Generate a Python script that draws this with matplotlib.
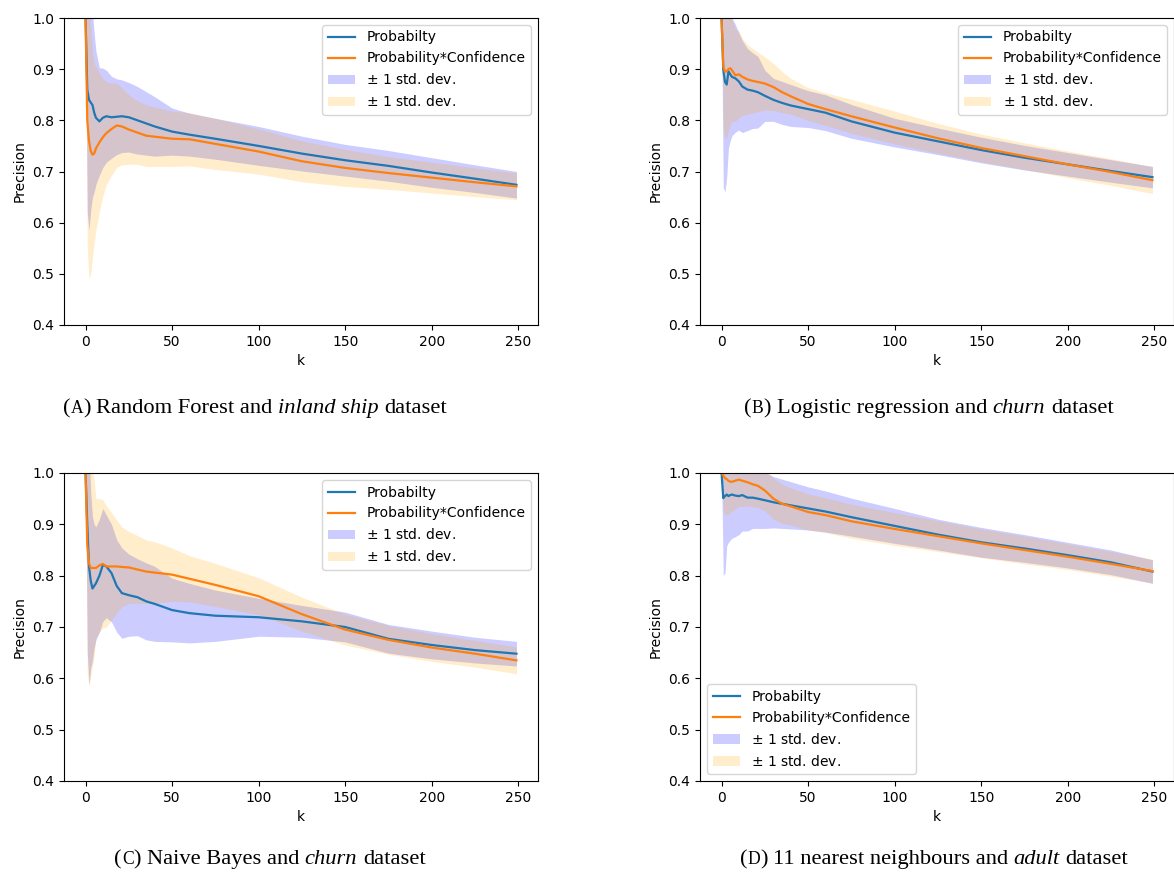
import matplotlib
matplotlib.use('Agg')
import matplotlib.pyplot as plt
import numpy as np

K = [0, 1, 2, 3, 4, 5, 6, 8, 10, 12, 15, 18, 21, 25, 30, 35, 40, 50, 60, 75,
     100, 125, 150, 175, 200, 225, 249]

# (A) Random Forest / inland ship
a_prob = [1.0, 0.86, 0.84, 0.835, 0.83, 0.815, 0.805, 0.798, 0.805, 0.808, 0.806, 0.807, 0.808,
          0.806, 0.80, 0.794, 0.788, 0.778, 0.772, 0.764, 0.750, 0.735, 0.722, 0.711, 0.698,
          0.686, 0.674]
a_prob_std = [0.0, 0.24, 0.255, 0.21, 0.18, 0.155, 0.13, 0.105, 0.097, 0.09, 0.08, 0.074, 0.071,
              0.068, 0.066, 0.062, 0.058, 0.046, 0.042, 0.040, 0.038, 0.034, 0.031, 0.030, 0.029,
              0.027, 0.026]
a_conf = [1.0, 0.80, 0.76, 0.74, 0.733, 0.735, 0.745, 0.757, 0.767, 0.775, 0.783, 0.79, 0.788,
          0.782, 0.776, 0.770, 0.768, 0.764, 0.763, 0.754, 0.739, 0.720, 0.707, 0.697, 0.688,
          0.679, 0.671]
a_conf_std = [0.0, 0.25, 0.27, 0.24, 0.2, 0.175, 0.16, 0.135, 0.115, 0.10, 0.09, 0.082, 0.075,
              0.068, 0.062, 0.06, 0.058, 0.054, 0.052, 0.05, 0.044, 0.04, 0.036, 0.032, 0.03,
              0.028, 0.026]

# (B) Logistic regression / churn
b_prob = [1.0, 0.899, 0.875, 0.87, 0.896, 0.89, 0.885, 0.882, 0.876, 0.866, 0.86, 0.858, 0.855,
          0.848, 0.84, 0.834, 0.829, 0.822, 0.815, 0.798, 0.776, 0.759, 0.742, 0.727, 0.714,
          0.701, 0.689]
b_prob_std = [0.0, 0.23, 0.215, 0.18, 0.15, 0.13, 0.115, 0.105, 0.095, 0.09, 0.08, 0.074, 0.07,
              0.05, 0.042, 0.042, 0.041, 0.036, 0.035, 0.033, 0.028, 0.026, 0.025, 0.024, 0.023,
              0.022, 0.021]
b_conf = [1.0, 0.905, 0.895, 0.896, 0.90, 0.902, 0.898, 0.888, 0.89, 0.885, 0.88, 0.877, 0.875,
          0.872, 0.865, 0.855, 0.847, 0.832, 0.822, 0.808, 0.786, 0.765, 0.746, 0.730, 0.714,
          0.699, 0.683]
b_conf_std = [0.0, 0.12, 0.13, 0.13, 0.12, 0.11, 0.10, 0.09, 0.085, 0.075, 0.068, 0.063, 0.058,
              0.052, 0.046, 0.04, 0.035, 0.032, 0.032, 0.033, 0.032, 0.029, 0.027, 0.026, 0.026,
              0.026, 0.026]

# (C) Naive Bayes / churn
c_prob = [1.0, 0.90, 0.818, 0.79, 0.775, 0.78, 0.785, 0.80, 0.821, 0.818, 0.805, 0.78, 0.766,
          0.762, 0.758, 0.75, 0.745, 0.733, 0.727, 0.722, 0.719, 0.711, 0.700, 0.677, 0.665,
          0.655, 0.648]
c_prob_std = [0.0, 0.25, 0.23, 0.17, 0.14, 0.12, 0.11, 0.11, 0.11, 0.10, 0.095, 0.09, 0.088,
              0.08, 0.075, 0.075, 0.073, 0.062, 0.058, 0.05, 0.037, 0.031, 0.029, 0.028, 0.027,
              0.025, 0.024]
c_conf = [1.0, 0.86, 0.824, 0.815, 0.815, 0.815, 0.815, 0.82, 0.823, 0.818, 0.818, 0.818, 0.817,
          0.816, 0.812, 0.808, 0.806, 0.802, 0.794, 0.782, 0.76, 0.725, 0.695, 0.675, 0.660,
          0.648, 0.635]
c_conf_std = [0.0, 0.25, 0.24, 0.21, 0.19, 0.17, 0.135, 0.13, 0.125, 0.118, 0.105, 0.09, 0.078,
              0.07, 0.066, 0.062, 0.06, 0.052, 0.045, 0.042, 0.036, 0.033, 0.03, 0.028, 0.027,
              0.026, 0.026]

# (D) 11 nearest neighbours / adult
d_prob = [1.0, 0.951, 0.955, 0.958, 0.955, 0.957, 0.958, 0.956, 0.955, 0.957, 0.952, 0.952, 0.95,
          0.947, 0.943, 0.94, 0.937, 0.931, 0.925, 0.914, 0.897, 0.88, 0.865, 0.853, 0.84,
          0.826, 0.808]
d_prob_std = [0.0, 0.15, 0.15, 0.10, 0.09, 0.088, 0.085, 0.08, 0.075, 0.07, 0.065, 0.06, 0.058,
              0.055, 0.05, 0.048, 0.046, 0.042, 0.04, 0.037, 0.034, 0.03, 0.029, 0.027, 0.025,
              0.024, 0.023]
d_conf = [1.0, 0.995, 0.99, 0.988, 0.985, 0.983, 0.983, 0.985, 0.987, 0.985, 0.982, 0.978, 0.975,
          0.966, 0.95, 0.94, 0.935, 0.924, 0.918, 0.906, 0.891, 0.877, 0.863, 0.85, 0.837,
          0.823, 0.809]
d_conf_std = [0.0, 0.07, 0.07, 0.07, 0.065, 0.06, 0.058, 0.055, 0.052, 0.05, 0.046, 0.044, 0.042,
              0.04, 0.04, 0.038, 0.036, 0.035, 0.034, 0.033, 0.032, 0.03, 0.028, 0.027, 0.025,
              0.024, 0.023]

PANELS = [
    (a_prob, a_prob_std, a_conf, a_conf_std),
    (b_prob, b_prob_std, b_conf, b_conf_std),
    (c_prob, c_prob_std, c_conf, c_conf_std),
    (d_prob, d_prob_std, d_conf, d_conf_std),
]
LEGEND_LOC = ['upper right', 'upper right', 'upper right', 'lower left']

# caption pieces: (text, size scale, style, space after)
CAPTIONS = [
    [('(', 1, 'normal', False), ('A', 0.78, 'normal', False), (')', 1, 'normal', True),
     ('Random Forest and', 1, 'normal', True), ('inland ship', 1, 'italic', True),
     ('dataset', 1, 'normal', False)],
    [('(', 1, 'normal', False), ('B', 0.78, 'normal', False), (')', 1, 'normal', True),
     ('Logistic regression and', 1, 'normal', True), ('churn', 1, 'italic', True),
     ('dataset', 1, 'normal', False)],
    [('(', 1, 'normal', False), ('C', 0.78, 'normal', False), (')', 1, 'normal', True),
     ('Naive Bayes and', 1, 'normal', True), ('churn', 1, 'italic', True),
     ('dataset', 1, 'normal', False)],
    [('(', 1, 'normal', False), ('D', 0.78, 'normal', False), (')', 1, 'normal', True),
     ('11 nearest neighbours and', 1, 'normal', True), ('adult', 1, 'italic', True),
     ('dataset', 1, 'normal', False)],
]

W, H = 1174, 875
AX_RECTS = [  # pixels: left, top, right, bottom
    (64, 18, 538, 325),
    (700, 18, 1174, 325),
    (64, 473, 538, 781),
    (700, 473, 1174, 781),
]
CAP_POS = [(255, 413), (929, 413), (270, 864), (934, 864)]  # centre x, baseline y (px)

fig = plt.figure(figsize=(W / 100, H / 100), dpi=100)
k = np.array(K)

for i, (prob, prob_std, conf, conf_std) in enumerate(PANELS):
    l, t, r, b = AX_RECTS[i]
    ax = fig.add_axes([l / W, 1 - b / H, (r - l) / W, (b - t) / H])
    prob, prob_std = np.array(prob), np.array(prob_std)
    conf, conf_std = np.array(conf), np.array(conf_std)
    ax.plot(k, prob, color='tab:blue', lw=1.6, label='Probabilty')
    ax.plot(k, conf, color='tab:orange', lw=1.6, label='Probability*Confidence')
    ax.fill_between(k, prob - prob_std, prob + prob_std, color='blue', alpha=0.2, lw=0,
                    label='$\\pm$ 1 std. dev.')
    ax.fill_between(k, conf - conf_std, conf + conf_std, color='orange', alpha=0.2, lw=0,
                    label='$\\pm$ 1 std. dev.')
    ax.set_ylim(0.4, 1.0)
    ax.set_xlim(-12.45, 261.45)
    ax.set_xticks([0, 50, 100, 150, 200, 250])
    ax.set_yticks([0.4, 0.5, 0.6, 0.7, 0.8, 0.9, 1.0])
    ax.tick_params(labelsize=10)
    ax.set_xlabel('k', fontsize=10)
    ax.set_ylabel('Precision', fontsize=10)
    ax.legend(loc=LEGEND_LOC[i], fontsize=10)

# captions below each panel, serif with small-caps letter and italic dataset name
renderer = fig.canvas.get_renderer()
CAP_SIZE = 16.2
for (xc, yb), parts in zip(CAP_POS, CAPTIONS):
    probe1 = fig.text(0, 0, 'x x', family='Liberation Serif', fontsize=CAP_SIZE)
    probe2 = fig.text(0, 0, 'xx', family='Liberation Serif', fontsize=CAP_SIZE)
    space = (probe1.get_window_extent(renderer).width - probe2.get_window_extent(renderer).width)
    probe1.remove()
    probe2.remove()
    texts, widths = [], []
    for s, scale, style, sp in parts:
        txt = fig.text(0, 1 - yb / H, s, family='Liberation Serif', fontsize=CAP_SIZE * scale,
                       style=style, va='baseline', ha='left')
        texts.append(txt)
        widths.append(txt.get_window_extent(renderer).width + (space if sp else 0))
    x = xc - sum(widths) / 2
    for txt, w in zip(texts, widths):
        txt.set_x(x / W)
        x += w

fig.savefig('out.png', dpi=100)
